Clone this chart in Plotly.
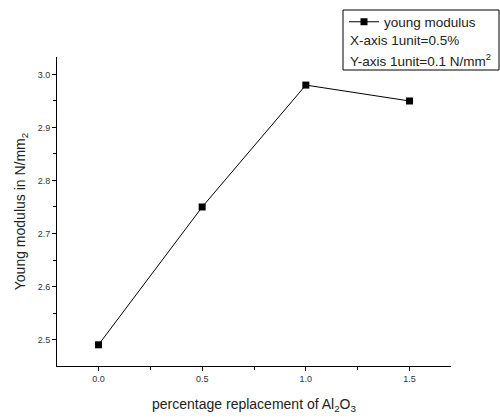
import plotly.graph_objects as go

x_vals = [0.0, 0.5, 1.0, 1.5]
y_vals = [2.49, 2.75, 2.98, 2.95]
x_ticks = [0.0, 0.5, 1.0, 1.5]
x_ticklabels = ["0.0", "0.5", "1.0", "1.5"]
y_ticks = [2.5, 2.6, 2.7, 2.8, 2.9, 3.0]
y_ticklabels = ["2.5", "2.6", "2.7", "2.8", "2.9", "3.0"]

fig = go.Figure()
fig.add_trace(go.Scatter(
    x=x_vals, y=y_vals, mode="lines+markers", name="young modulus",
    line=dict(color="black", width=1),
    marker=dict(symbol="square", size=7, color="black"),
))

axis_common = dict(
    showgrid=False, zeroline=False, showline=True, linecolor="black", linewidth=1,
    ticks="outside", ticklen=4, tickcolor="black",
    tickfont=dict(family="Liberation Sans", size=9, color="#333333"),
    minor=dict(ticks="outside", ticklen=3, tickcolor="black"),
)

fig.update_xaxes(range=[-0.2, 1.7], tickvals=x_ticks, ticktext=x_ticklabels,
                 title=dict(text="percentage replacement of Al<sub>2</sub>O<sub>3</sub>",
                            font=dict(family="Liberation Sans", size=14, color="#222222"), standoff=16),
                 **axis_common)
fig.update_yaxes(range=[2.45, 3.033], tickvals=y_ticks, ticktext=y_ticklabels,
                 title=dict(text="Young modulus in N/mm<sub>2</sub>",
                            font=dict(family="Liberation Sans", size=14, color="#222222"), standoff=8),
                 **axis_common)
fig.update_xaxes(minor=dict(tickvals=[0.25, 0.75, 1.25]))
fig.update_yaxes(minor=dict(tickvals=[2.55, 2.65, 2.75, 2.85, 2.95]))

fig.add_shape(type="rect", xref="paper", yref="paper",
              x0=(343 - 57) / 394, x1=(499 - 57) / 394,
              y0=(366 - 70) / 309, y1=(366 - 10) / 309,
              line=dict(color="black", width=1), fillcolor="rgba(0,0,0,0)")

fig.update_layout(
    width=500, height=419,
    margin=dict(l=57, r=49, t=57, b=53, autoexpand=False),
    paper_bgcolor="white", plot_bgcolor="white",
    font=dict(family="Liberation Sans", color="#222222"),
    showlegend=True,
    legend=dict(x=(344 - 57) / 394, y=(366 - 22) / 309, xanchor="left", yanchor="middle",
                bgcolor="rgba(0,0,0,0)", borderwidth=0,
                font=dict(family="Liberation Sans", size=13.5, color="#222222"),
                itemwidth=30, tracegroupgap=0),
)

fig.add_annotation(xref="paper", yref="paper", x=(348 - 57) / 394, y=(366 - 41) / 309,
                   xanchor="left", yanchor="middle", showarrow=False,
                   text="X-axis 1unit=0.5%", font=dict(family="Liberation Sans", size=13.5, color="#222222"))
fig.add_annotation(xref="paper", yref="paper", x=(348 - 57) / 394, y=(366 - 60) / 309,
                   xanchor="left", yanchor="middle", showarrow=False,
                   text="Y-axis 1unit=0.1 N/mm<sup>2</sup>", font=dict(family="Liberation Sans", size=13.5, color="#222222"))

fig.write_html("out.html")
